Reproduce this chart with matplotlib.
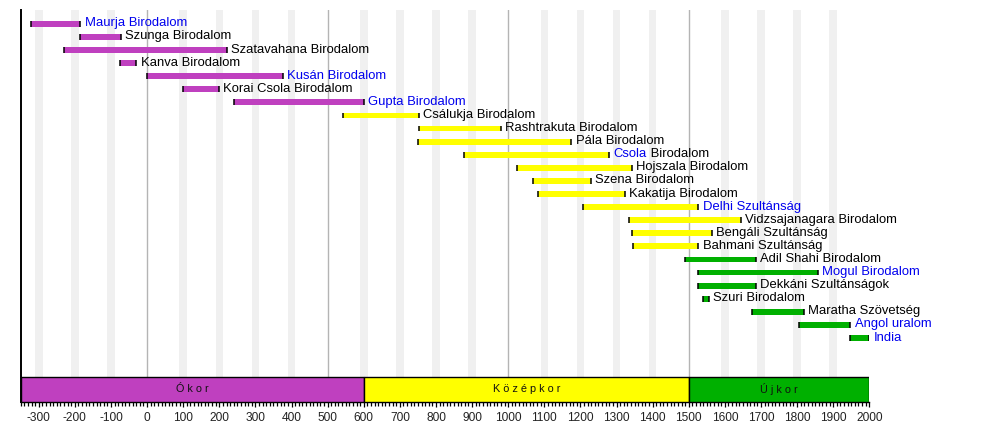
import matplotlib.pyplot as plt

plt.rcParams['font.family'] = ['Liberation Sans', 'DejaVu Sans']

# empires: name, start year, end year, era (0 ancient, 1 medieval, 2 modern), linked?
names = ['Maurja Birodalom', 'Szunga Birodalom', 'Szatavahana Birodalom', 'Kanva Birodalom',
         'Kusán Birodalom', 'Korai Csola Birodalom', 'Gupta Birodalom', 'Csálukja Birodalom',
         'Rashtrakuta Birodalom', 'Pála Birodalom', 'Csola Birodalom', 'Hojszala Birodalom',
         'Szena Birodalom', 'Kakatija Birodalom', 'Delhi Szultánság', 'Vidzsajanagara Birodalom',
         'Bengáli Szultánság', 'Bahmani Szultánság', 'Adil Shahi Birodalom', 'Mogul Birodalom',
         'Dekkáni Szultánságok', 'Szuri Birodalom', 'Maratha Szövetség', 'Angol uralom', 'India']
starts = [-322, -185, -230, -75, 0, 100, 240, 543, 752, 750, 878, 1025, 1070, 1083, 1206,
          1334, 1342, 1346, 1490, 1526, 1526, 1540, 1674, 1805, 1947]
ends = [-185, -73, 220, -30, 375, 198, 600, 752, 980, 1175, 1280, 1343, 1228, 1323, 1526,
        1644, 1564, 1526, 1686, 1858, 1686, 1556, 1818, 1947, 2000]
eras = [0, 0, 0, 0, 0, 0, 0, 1, 1, 1, 1, 1, 1, 1, 1, 1, 1, 1, 2, 2, 2, 2, 2, 2, 2]
linked = ['Maurja Birodalom', 'Kusán Birodalom', 'Gupta Birodalom', 'Delhi Szultánság',
          'Mogul Birodalom', 'Angol uralom', 'India']

era_names = ['Ókor', 'Középkor', 'Újkor']
era_starts = [-350, 600, 1500]
era_ends = [600, 1500, 2000]
era_colors = ['#bf40bf', '#ffff00', '#00b000']

fig = plt.figure(figsize=(10, 4.32), dpi=100)
ax = fig.add_axes([0.0207, 0.0694, 0.8486, 0.9074])
ax.set_xlim(-350, 2000)
ax.set_ylim(28.89, -1.054)

era_top = 26.96
era_frac = (28.89 - era_top) / (28.89 + 1.054)

# background grid: light stripes every century, grey lines every 500 years
for c in range(-300, 2000, 100):
    if c % 500 == 0:
        ax.axvline(c, ymin=era_frac, ymax=1, color='#b4b4b4', lw=1, zorder=1)
    else:
        ax.axvspan(c - 10.5, c + 10.5, ymin=era_frac, ymax=1, color='#f0f0f0', lw=0, zorder=0)

h = 0.44
for i, (name, s, e, era) in enumerate(zip(names, starts, ends, eras)):
    ax.barh(i, e - s, left=s, height=h, color=era_colors[era], lw=0, zorder=2)
    ax.vlines([s, e], i - h / 2, i + h / 2, color='black', lw=1.1, zorder=3)
    if name == 'Csola Birodalom':
        t = ax.annotate('Csola', (e, i), xytext=(3.2, 0.3), textcoords='offset points',
                        va='center', color='#0000ee', fontsize=9.4)
        ax.annotate(' Birodalom', xy=(1, 0), xycoords=t, va='bottom', fontsize=9.4, color='black')
    else:
        ax.annotate(name, (e, i), xytext=(3.2, 0.3), textcoords='offset points', va='center',
                    color='#0000ee' if name in linked else 'black', fontsize=9.4)

# era band
for n, s, e, col in zip(era_names, era_starts, era_ends, era_colors):
    ax.barh((era_top + 28.89) / 2, e - s, left=s, height=28.89 - era_top, color=col,
            edgecolor='black', lw=1, zorder=4)
    ax.text((s + e) / 2, (era_top + 28.89) / 2, ' '.join(n), ha='center', va='center',
            fontsize=7.8, color='#111111', zorder=5)

ax.spines['top'].set_visible(False)
ax.spines['right'].set_visible(False)
ax.spines['left'].set_linewidth(1.4)
ax.spines['bottom'].set_linewidth(1)
ax.set_yticks([])
ax.set_xticks(range(-300, 2001, 100), [str(v) for v in range(-300, 2001, 100)])
ax.set_xticks(range(-350, 2001, 10), minor=True)
ax.tick_params(axis='x', which='major', length=3.5, width=0.9, pad=3.8, labelsize=8.6,
               labelcolor='#222222')
ax.tick_params(axis='x', which='minor', length=2.6, width=0.9)

fig.savefig('out.png', dpi=100)
